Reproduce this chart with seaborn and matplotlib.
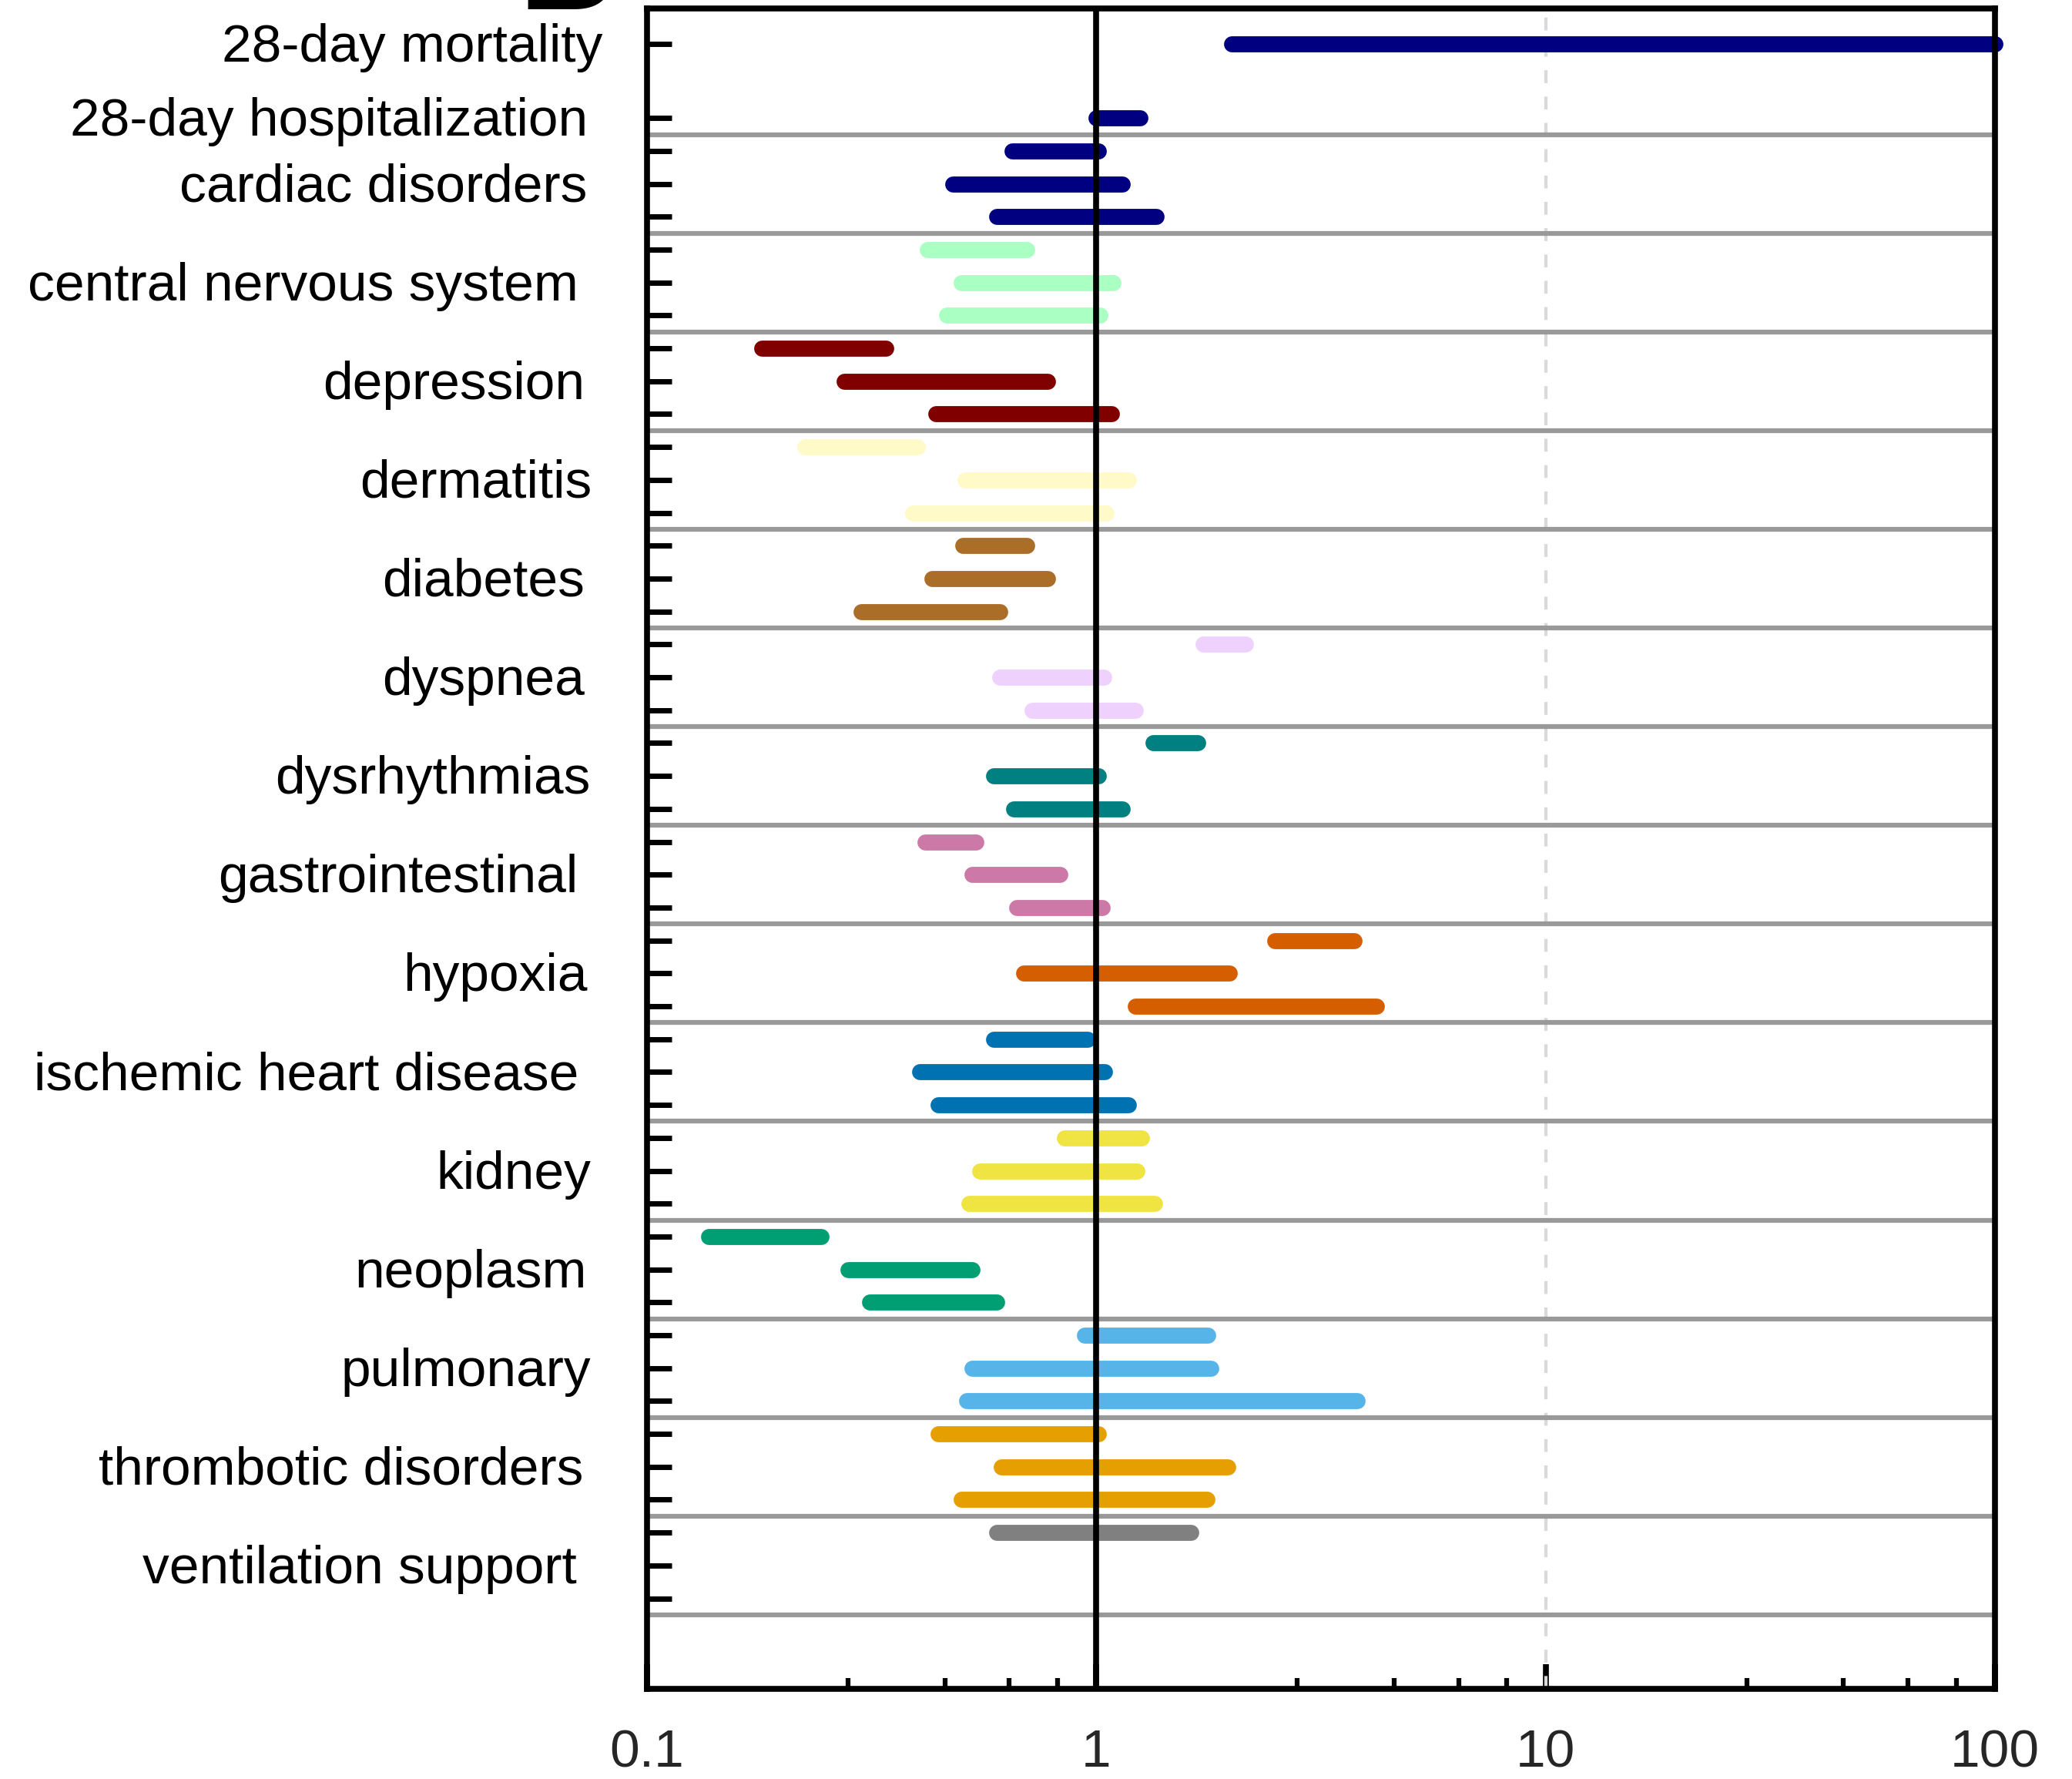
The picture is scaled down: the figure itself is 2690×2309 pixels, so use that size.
import matplotlib

matplotlib.use("Agg")
import matplotlib.pyplot as plt
import matplotlib.transforms as mtransforms
import pandas as pd
import seaborn as sns
from matplotlib.ticker import NullFormatter

sns.set_theme(style="ticks")
plt.rcParams["font.family"] = ["Liberation Sans", "DejaVu Sans"]

categories = [
    "28-day mortality",
    "28-day hospitalization",
    "cardiac disorders",
    "central nervous system",
    "depression",
    "dermatitis",
    "diabetes",
    "dyspnea",
    "dysrhythmias",
    "gastrointestinal",
    "hypoxia",
    "ischemic heart disease",
    "kidney",
    "neoplasm",
    "pulmonary",
    "thrombotic disorders",
    "ventilation support",
]

# lower / upper bounds of each interval (one list per category)
lower = [
    [2.0],
    [1.0],
    [0.65, 0.48, 0.60],
    [0.42, 0.50, 0.465],
    [0.18, 0.275, 0.44],
    [0.225, 0.51, 0.39],
    [0.505, 0.43, 0.30],
    [1.73, 0.61, 0.72],
    [1.34, 0.59, 0.655],
    [0.415, 0.53, 0.665],
    [2.5, 0.69, 1.22],
    [0.59, 0.405, 0.445],
    [0.85, 0.55, 0.52],
    [0.137, 0.28, 0.313],
    [0.94, 0.53, 0.515],
    [0.445, 0.615, 0.50],
    [0.60],
]
upper = [
    [100.0],
    [1.25],
    [1.01, 1.14, 1.36],
    [0.70, 1.09, 1.02],
    [0.34, 0.78, 1.08],
    [0.40, 1.18, 1.05],
    [0.70, 0.78, 0.61],
    [2.15, 1.04, 1.22],
    [1.68, 1.01, 1.14],
    [0.54, 0.83, 1.03],
    [3.75, 1.98, 4.2],
    [0.955, 1.045, 1.18],
    [1.26, 1.23, 1.35],
    [0.244, 0.53, 0.60],
    [1.77, 1.80, 3.8],
    [1.01, 1.96, 1.76],
    [1.62],
]

colors = [
    "#000080", "#000080", "#000080", "#aaffc3", "#800000", "#fffac8",
    "#aa6e28", "#efd1fd", "#008080", "#cc79a7", "#d55e00", "#0072b2",
    "#f0e442", "#009e73", "#56b4e9", "#e69f00", "#808080",
]

x_major = [0.1, 1, 10, 100]
x_minor = [0.28, 0.46, 0.64, 0.82, 2.8, 4.6, 6.4, 8.2, 28, 46, 64, 82]

# ---- row layout: two single rows on top, then groups of three rows
rows_per_cat = []
rows_per_cat.append([-2.25])
rows_per_cat.append([0])
for i in range(len(categories) - 2):
    rows_per_cat.append([1 + 3 * i, 2 + 3 * i, 3 + 3 * i])

all_rows = [r for rr in rows_per_cat for r in rr]
label_rows = [rr[len(rr) // 2] for rr in rows_per_cat]
separators = [0.5 + 3 * i for i in range(len(categories) - 1)]

records = []
for c, rr, lo, hi in zip(categories, rows_per_cat, lower, upper):
    for j, (a, b) in enumerate(zip(lo, hi)):
        bar_id = f"{c}_{j}"
        records.append({"category": c, "bar": bar_id, "row": rr[j], "value": a})
        records.append({"category": c, "bar": bar_id, "row": rr[j], "value": b})
df = pd.DataFrame(records)

W, H = 2690, 2309
AX_L, AX_R, AX_T, AX_B = 840, 2590, 11, 2192
fig = plt.figure(figsize=(W / 100, H / 100), dpi=100)
ax = fig.add_axes([AX_L / W, 1 - AX_B / H, (AX_R - AX_L) / W, (AX_B - AX_T) / H])

ax.set_xscale("log")

sns.lineplot(
    data=df,
    x="value",
    y="row",
    hue="category",
    units="bar",
    estimator=None,
    palette=dict(zip(categories, colors)),
    linewidth=15,
    solid_capstyle="round",
    legend=False,
    clip_on=False,
    zorder=3,
    ax=ax,
)

for s in separators:
    ax.axhline(s, color="#999999", lw=4.5, zorder=2)
ax.axvline(10, color="#d9d9d9", lw=3, dashes=(4, 4.2), zorder=1)
ax.axvline(1, color="black", lw=5.5, zorder=4)

ax.set_xlim(0.1, 100)
ax.set_ylim(47.75, -3.33)
ax.set_xlabel("")
ax.set_ylabel("")

ax.set_xticks(x_major, labels=["0.1", "1", "10", "100"])
ax.set_xticks(x_minor, minor=True)
ax.xaxis.set_minor_formatter(NullFormatter())
ax.set_yticks(all_rows)
ax.set_yticks([], minor=True)

ax.tick_params(axis="x", which="major", direction="in", length=23, width=5.5,
               pad=37, labelsize=50, top=False, color="black")
ax.tick_params(axis="x", which="minor", direction="in", length=10, width=4.5,
               top=False, color="black")
ax.tick_params(axis="y", which="major", direction="in", length=23, width=5,
               right=False, labelleft=False, color="black")

for sp in ax.spines.values():
    sp.set_linewidth(5.5)
    sp.set_color("black")
    sp.set_zorder(5)

# category labels on the left, right edge of each label in figure pixels
label_right_px = [782, 763, 762, 751, 759, 768, 759, 759, 767,
                  750, 763, 751, 767, 762, 767, 757, 749]
trans = mtransforms.blended_transform_factory(ax.transAxes, ax.transData)
trans = trans + mtransforms.ScaledTranslation(0, -0.23, fig.dpi_scale_trans)
for c, r, xp in zip(categories, label_rows, label_right_px):
    ax.text((xp - AX_L) / (AX_R - AX_L), r, c, transform=trans, ha="right",
            va="baseline", fontsize=50, color="black", clip_on=False)

# panel letter (cut at the top edge)
fig.text(673 / W, 1 - 12 / H, "B", ha="left", va="baseline",
         fontsize=125, fontweight="bold", color="black")

fig.savefig("out.png", dpi=100)
